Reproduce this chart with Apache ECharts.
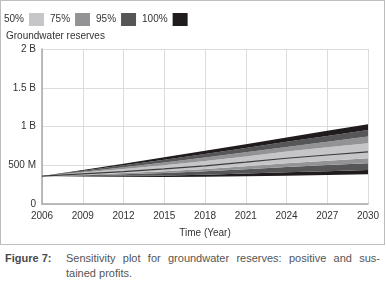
<!DOCTYPE html>
<html>
<head>
<meta charset="utf-8">
<script src="https://cdn.jsdelivr.net/npm/echarts@6/dist/echarts.min.js"></script>
<style>
  html, body { margin: 0; padding: 0; background: #fff; }
  body { width: 386px; height: 292px; position: relative; overflow: hidden; }
  .frame { position: absolute; left: 0; top: 0; width: 385px; height: 245px; border: 1px solid #bdbdbd; box-sizing: border-box; }
  #chart { position: absolute; left: 0; top: 0; width: 386px; height: 246px; }
  .caption { position: absolute; top: 251px; font-family: 'Liberation Sans', Arial, sans-serif; font-size: 11px; line-height: 15px; color: #555; }
  .fig { left: 5px; font-weight: bold; color: #4a4a4a; }
  .text { left: 66px; width: 314px; }
  .text .l1 { text-align: justify; text-align-last: justify; }
</style>
</head>
<body>
<div class="frame"></div>
<div id="chart"></div>
<div class="caption fig">Figure 7:</div>
<div class="caption text">
  <div class="l1">Sensitivity plot for groundwater reserves: positive and sus-</div>
  <div>tained profits.</div>
</div>
<script>
// years shown on the x axis
const years = ['2006', '2009', '2012', '2015', '2018', '2021', '2024', '2027', '2030']
// y tick labels (values in millions)
const yTicks = { 0: '0', 500: '500 M', 1000: '1 B', 1500: '1.5 B', 2000: '2 B' }

// confidence bounds, millions
const lower100 = [360, 356, 352, 350, 352, 358, 366, 375, 385]
const lower95  = [360, 362, 365, 369, 379, 393, 409, 424, 440]
const lower75  = [360, 372, 385, 401, 422, 449, 478, 503, 527]
const lower50  = [360, 379, 399, 422, 451, 487, 525, 557, 590]
const median   = [360, 388, 418, 452, 492, 540, 590, 632, 672]
const upper50  = [360, 405, 451, 501, 554, 614, 676, 732, 785]
const upper75  = [360, 417, 474, 536, 599, 668, 737, 804, 870]
const upper95  = [360, 429, 499, 572, 645, 723, 802, 878, 955]
const upper100 = [360, 440, 520, 604, 686, 772, 858, 944, 1030]

const colors = { '50%': '#c6c6c8', '75%': '#939395', '95%': '#565658', '100%': '#201c1d' }
const font = "'Liberation Sans', Arial, sans-serif"

const diff = (a, b) => a.map((v, i) => v - b[i])

// bands stacked from the bottom up
const bands = [
  ['100%', lower95, lower100],
  ['95%', lower75, lower95],
  ['75%', lower50, lower75],
  ['50%', median, lower50],
  ['50%', upper50, median],
  ['75%', upper75, upper50],
  ['95%', upper95, upper75],
  ['100%', upper100, upper95]
]

const series = [
  {
    name: 'base',
    type: 'line',
    stack: 'band',
    data: lower100,
    symbol: 'none',
    lineStyle: { width: 0 },
    silent: true
  }
]
bands.forEach(([name, hi, lo]) => {
  series.push({
    name,
    type: 'line',
    stack: 'band',
    data: diff(hi, lo),
    symbol: 'none',
    lineStyle: { width: 0 },
    itemStyle: { color: colors[name] },
    areaStyle: { color: colors[name], opacity: 1 }
  })
})
series.push({
  name: 'median',
  type: 'line',
  data: median,
  symbol: 'none',
  lineStyle: { width: 1.2, color: '#3a3a3a' },
  z: 5
})

const chart = echarts.init(document.getElementById('chart'))
chart.setOption({
  animation: false,
  textStyle: { fontFamily: font },
  title: {
    text: 'Groundwater reserves',
    left: 6,
    top: 31,
    padding: 0,
    textStyle: { fontFamily: font, fontSize: 10, fontWeight: 'normal', color: '#333' }
  },
  legend: {
    left: 4,
    top: 13,
    padding: 0,
    align: 'right',
    icon: 'rect',
    itemWidth: 15,
    itemHeight: 13,
    itemGap: 6,
    selectedMode: false,
    textStyle: { fontFamily: font, fontSize: 10, color: '#333' },
    data: ['50%', '75%', '95%', '100%'].map(n => ({ name: n, itemStyle: { color: colors[n] } }))
  },
  grid: { left: 42, right: 18, top: 49, bottom: 42 },
  xAxis: {
    type: 'category',
    boundaryGap: false,
    data: years,
    name: 'Time (Year)',
    nameLocation: 'middle',
    nameGap: 24,
    nameTextStyle: { fontFamily: font, fontSize: 10, color: '#333' },
    axisLine: { lineStyle: { color: '#a8a8a8', width: 1.5 } },
    axisTick: { show: false },
    axisLabel: { fontFamily: font, fontSize: 10, color: '#333', margin: 7, interval: 0 },
    splitLine: { show: true, lineStyle: { color: '#dcdcdc', width: 1 } }
  },
  yAxis: {
    type: 'value',
    min: 0,
    max: 2000,
    interval: 500,
    axisLine: { show: true, lineStyle: { color: '#a8a8a8', width: 1.5 } },
    axisTick: { show: false },
    axisLabel: { fontFamily: font, fontSize: 10, color: '#333', margin: 6, formatter: v => yTicks[v] },
    splitLine: { lineStyle: { color: '#dcdcdc', width: 1 } }
  },
  series
})
</script>
</body>
</html>
